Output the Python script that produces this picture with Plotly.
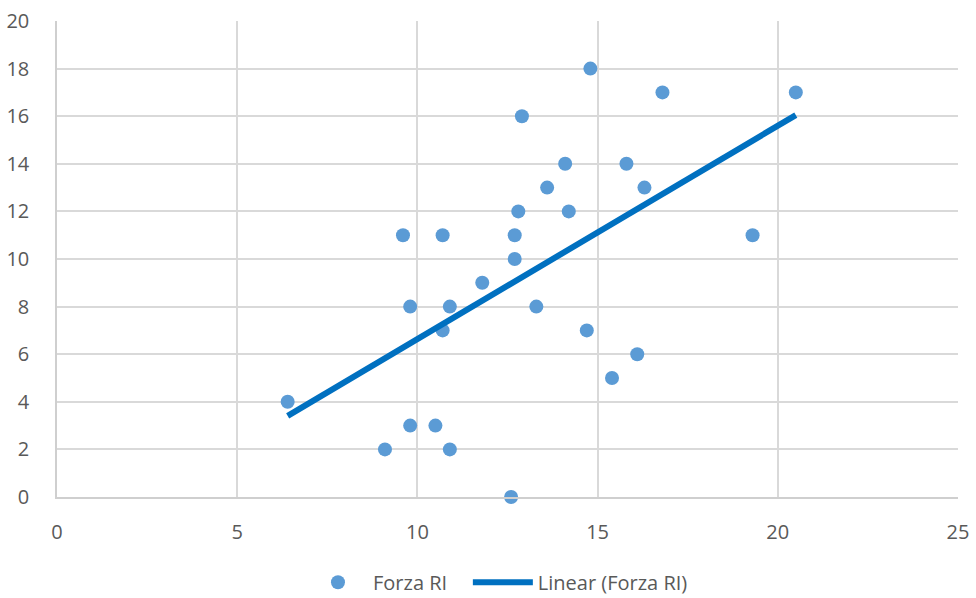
import numpy as np
import plotly.graph_objects as go

# Forza RI observations
forza_x = [6.4, 9.1, 9.8, 10.5, 10.9, 12.6, 9.6, 10.7, 9.8, 10.9, 10.7, 11.8, 12.7,
           12.7, 12.8, 12.9, 13.3, 13.6, 14.1, 14.2, 14.8, 14.7, 15.4, 15.8, 16.1,
           16.3, 16.8, 19.3, 20.5]
forza_y = [4, 2, 3, 3, 2, 0, 11, 11, 8, 8, 7, 9, 10,
           11, 12, 16, 8, 13, 14, 12, 18, 7, 5, 14, 6,
           13, 17, 11, 17]

x_ticks = [0, 5, 10, 15, 20, 25]
y_ticks = [0, 2, 4, 6, 8, 10, 12, 14, 16, 18, 20]

# least-squares linear trend over the observed x span
slope, intercept = np.polyfit(forza_x, forza_y, 1)
trend_x = np.array([min(forza_x), max(forza_x)])
trend_y = slope * trend_x + intercept

fig = go.Figure()
fig.add_trace(go.Scatter(
    x=forza_x, y=forza_y, mode="markers", name="Forza RI",
    marker=dict(color="#5b9bd5", size=14, line=dict(width=0)),
    cliponaxis=False, legend="legend",
))
fig.add_trace(go.Scatter(
    x=trend_x, y=trend_y, mode="lines", name="Linear (Forza RI)",
    line=dict(color="#0070c0", width=6),
    cliponaxis=False, legend="legend2",
))

axis_font = dict(family="Open Sans, Liberation Sans, sans-serif", size=20, color="#595959")
legend_common = dict(orientation="h", y=-0.179, yanchor="middle", xanchor="left",
                     font=axis_font, itemwidth=60, bgcolor="rgba(0,0,0,0)")

fig.update_layout(
    width=976, height=598,
    margin=dict(l=57, r=18, t=21, b=101, autoexpand=False),
    paper_bgcolor="white", plot_bgcolor="white",
    font=axis_font,
    showlegend=True,
    legend=dict(x=0.273, **legend_common),
    legend2=dict(x=0.456, **legend_common),
    xaxis=dict(
        range=[0, 25], tickvals=x_ticks, showgrid=True, gridcolor="#d9d9d9", gridwidth=1.5,
        zeroline=False, showline=True, linecolor="#cfcfcf", linewidth=1.5,
        ticks="", ticklabelstandoff=16, tickfont=axis_font, automargin=False,
    ),
    yaxis=dict(
        range=[0, 20], tickvals=y_ticks, showgrid=True, gridcolor="#d9d9d9", gridwidth=1.5,
        zeroline=False, showline=True, linecolor="#cfcfcf", linewidth=1.5,
        ticks="", ticklabelstandoff=22, tickfont=axis_font, automargin=False,
    ),
)

fig.write_html("out.html")
